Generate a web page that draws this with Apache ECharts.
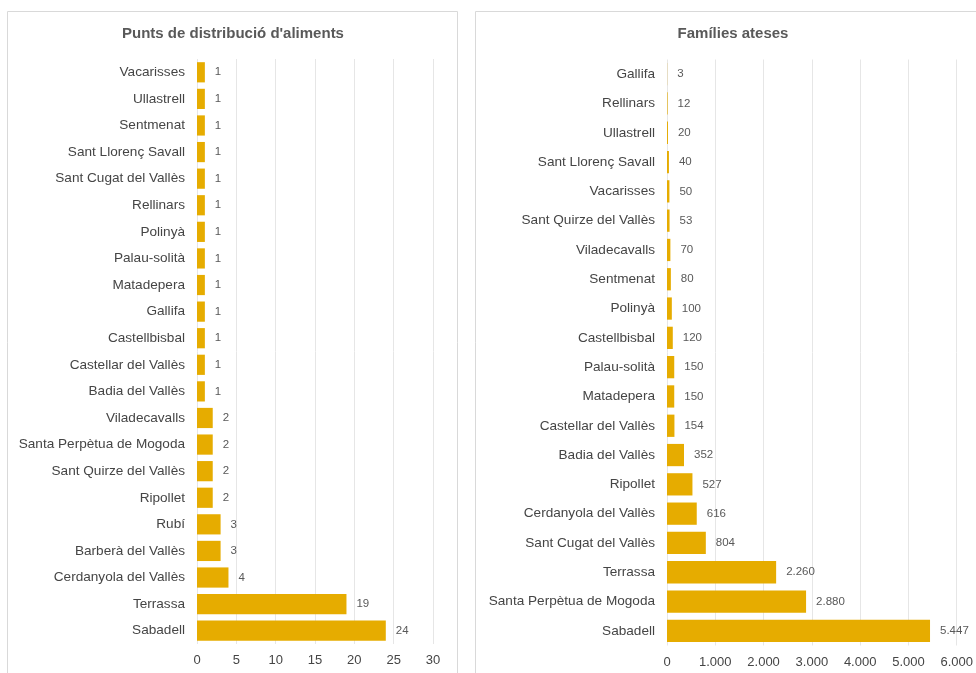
<!DOCTYPE html>
<html><head><meta charset="utf-8">
<script src="https://cdn.jsdelivr.net/npm/echarts@6/dist/echarts.min.js"></script>
<style>html,body{margin:0;padding:0;background:#fff}#c{width:976px;height:673px}</style>
</head><body><div id="c"></div>
<script>
const leftTitle = "Punts de distribució d'aliments";
const rightTitle = "Famílies ateses";
const leftCategories = ["Vacarisses","Ullastrell","Sentmenat","Sant Llorenç Savall","Sant Cugat del Vallès","Rellinars","Polinyà","Palau-solità","Matadepera","Gallifa","Castellbisbal","Castellar del Vallès","Badia del Vallès","Viladecavalls","Santa Perpètua de Mogoda","Sant Quirze del Vallès","Ripollet","Rubí","Barberà del Vallès","Cerdanyola del Vallès","Terrassa","Sabadell"];
const leftValues = [1,1,1,1,1,1,1,1,1,1,1,1,1,2,2,2,2,3,3,4,19,24];
const rightCategories = ["Gallifa","Rellinars","Ullastrell","Sant Llorenç Savall","Vacarisses","Sant Quirze del Vallès","Viladecavalls","Sentmenat","Polinyà","Castellbisbal","Palau-solità","Matadepera","Castellar del Vallès","Badia del Vallès","Ripollet","Cerdanyola del Vallès","Sant Cugat del Vallès","Terrassa","Santa Perpètua de Mogoda","Sabadell"];
const rightValues = [3,12,20,40,50,53,70,80,100,120,150,150,154,352,527,616,804,2260,2880,5447];

const fmt = v => String(v).replace(/\B(?=(\d{3})+(?!\d))/g, '.');
const FONT = 'Liberation Sans, Arial, sans-serif';
const BAR = '#E6AC00';

const chart = echarts.init(document.getElementById('c'));
function yAxis(idx, cats){
  return {type:'category', gridIndex:idx, data:cats.slice().reverse(),
    axisLine:{show:false}, axisTick:{show:false},
    axisLabel:{color:'#454545', fontSize:13.6, fontFamily:FONT, margin:12}};
}
function xAxis(idx, max, interval){
  return {type:'value', gridIndex:idx, min:0, max:max, interval:interval,
    axisLine:{show:false}, axisTick:{show:false},
    splitLine:{lineStyle:{color:'#e6e6e6', width:1}},
    axisLabel:{color:'#454545', fontSize:13, fontFamily:FONT, margin:10, formatter:v=>fmt(v)}};
}
chart.setOption({
  animation:false,
  graphic:[
    {type:'rect', shape:{x:7.5,y:11.5,width:450,height:680}, style:{fill:'none', stroke:'#d9d9d9', lineWidth:1}},
    {type:'rect', shape:{x:475.5,y:11.5,width:520,height:680}, style:{fill:'none', stroke:'#d9d9d9', lineWidth:1}}
  ],
  title:[
    {text:leftTitle, left:228, top:21, textAlign:'center', textStyle:{color:'#595959', fontSize:15, fontWeight:'bold', fontFamily:FONT}},
    {text:rightTitle, left:728, top:21, textAlign:'center', textStyle:{color:'#595959', fontSize:15, fontWeight:'bold', fontFamily:FONT}}
  ],
  grid:[
    {left:197, width:236, top:59, height:585, containLabel:false},
    {left:667, width:290, top:59.5, height:586, containLabel:false}
  ],
  xAxis:[xAxis(0,30,5), xAxis(1,6000,1000)],
  yAxis:[yAxis(0,leftCategories), yAxis(1,rightCategories)],
  series:[
    {type:'bar', xAxisIndex:0, yAxisIndex:0, data:leftValues.slice().reverse(), barWidth:'76%',
      itemStyle:{color:BAR},
      label:{show:true, position:'right', distance:10, color:'#595959', fontSize:11.5, fontFamily:FONT, formatter:p=>fmt(p.value)}},
    {type:'bar', xAxisIndex:1, yAxisIndex:1, data:rightValues.slice().reverse(), barWidth:'76%',
      itemStyle:{color:BAR},
      label:{show:true, position:'right', distance:10, color:'#595959', fontSize:11.5, fontFamily:FONT, formatter:p=>fmt(p.value)}}
  ]
});
</script></body></html>
